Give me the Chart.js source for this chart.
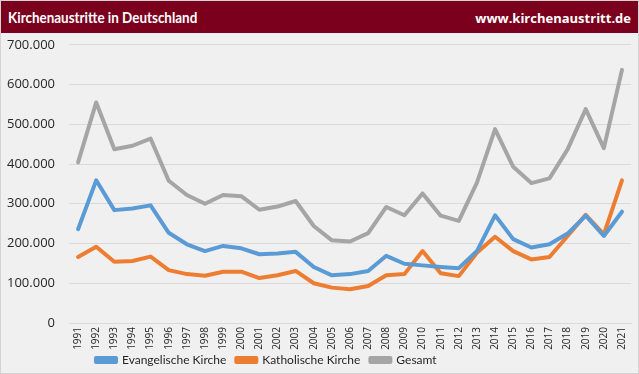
<!DOCTYPE html>
<html>
<head>
<meta charset="utf-8">
<script src="https://cdn.jsdelivr.net/npm/chart.js@4"></script>
<style>
  html, body { margin: 0; padding: 0; background: #f0f0f0; }
  #wrap { width: 639px; height: 374px; box-sizing: border-box; border: 1px solid #d4d4d4; position: relative; overflow: hidden; }
  #header { height: 32px; background: #7a001d; color: #fff; font-weight: bold; position: relative; z-index: 2; }
  #header .title { position: absolute; left: 7px; top: 6px; font-size: 16px; font-family: Lato, sans-serif; transform: scaleX(0.84); transform-origin: left center; white-space: nowrap; }
  #header .url { position: absolute; right: 7px; top: 8px; font-size: 13px; font-family: "Open Sans", sans-serif; }
  #chartBox { position: absolute; left: 0; top: 22px; width: 637px; height: 360px; z-index: 1; }
</style>
</head>
<body>
<div id="wrap">
  <div id="header"><span class="title">Kirchenaustritte in Deutschland</span><span class="url">www.kirchenaustritt.de</span></div>
  <div id="chartBox"><canvas id="austritteChart" width="637" height="360"></canvas></div>
</div>
<script>
// Jahre
var years = ['1991', '1992', '1993', '1994', '1995', '1996', '1997', '1998', '1999', '2000',
             '2001', '2002', '2003', '2004', '2005', '2006', '2007', '2008', '2009', '2010',
             '2011', '2012', '2013', '2014', '2015', '2016', '2017', '2018', '2019', '2020', '2021'];

var evangelisch = [236000, 359000, 284000, 288000, 296000, 227000, 198000, 181000, 194000, 188000,
                   173000, 175000, 179000, 141000, 120000, 123000, 131000, 169000, 149000, 145000,
                   141000, 138000, 181000, 271000, 211000, 190000, 198000, 225000, 270000, 219000, 280000];

var katholisch = [166000, 192000, 154000, 156000, 167000, 133000, 123000, 119000, 129000, 129000,
                  113000, 120000, 131000, 100000, 89000, 85000, 93000, 120000, 123000, 181000,
                  125000, 118000, 177000, 217000, 181000, 160000, 166000, 219000, 272000, 223000, 359000];

var gesamt = [404000, 555000, 437000, 446000, 464000, 358000, 322000, 300000, 322000, 319000,
              285000, 293000, 307000, 244000, 208000, 205000, 226000, 292000, 271000, 326000,
              270000, 257000, 353000, 488000, 393000, 352000, 364000, 437000, 538000, 440000, 637000];

var yMax = 700000;
var yStep = 100000;

function fmtDe(v) {
    return String(v).replace(/\B(?=(\d{3})+(?!\d))/g, '.');
}

function series(label, data, color) {
    return {
        label: label,
        data: data,
        borderColor: color,
        backgroundColor: color,
        borderWidth: 4,
        pointRadius: 0,
        tension: 0,
        borderJoinStyle: 'round',
        borderCapStyle: 'round'
    };
}

// Legende wie in Excel etwas nach rechts/oben schieben
var legendShift = {
    id: 'legendShift',
    afterLayout: function (chart) {
        var lg = chart.legend;
        if (!lg) return;
        lg.left += 85;
        lg.right += 85;
        lg.top -= 7;
        lg.bottom -= 7;
    }
};

new Chart(document.getElementById('austritteChart'), {
    type: 'line',
    data: {
        labels: years,
        datasets: [
            series('Evangelische Kirche', evangelisch, '#5b9bd5'),
            series('Katholische Kirche', katholisch, '#ed7d31'),
            series('Gesamt', gesamt, '#a5a5a5')
        ]
    },
    plugins: [legendShift],
    options: {
        responsive: false,
        animation: false,
        layout: { padding: { top: 2, right: 1, left: 0, bottom: 0 } },
        plugins: {
            legend: {
                position: 'bottom',
                align: 'start',
                labels: {
                    boxWidth: 20,
                    boxHeight: 4,
                    padding: 10,
                    color: '#262626',
                    font: { family: 'Lato', size: 12 }
                }
            },
            tooltip: { enabled: false }
        },
        scales: {
            x: {
                offset: true,
                grid: { display: false, drawTicks: false },
                border: { color: '#d9d9d9' },
                ticks: {
                    autoSkip: false,
                    maxRotation: 90,
                    minRotation: 90,
                    padding: 4,
                    color: '#262626',
                    font: { family: 'Open Sans', size: 10 }
                },
                afterFit: function (scale) { scale.height = 28; }
            },
            y: {
                min: 0,
                max: yMax,
                grid: { color: '#d9d9d9', drawTicks: false },
                border: { display: false },
                ticks: {
                    stepSize: yStep,
                    padding: 14,
                    color: '#262626',
                    font: { family: 'Open Sans', size: 13 },
                    callback: function (v) { return fmtDe(v); }
                },
                afterFit: function (scale) { scale.width = 68; }
            }
        }
    }
});
</script>
</body>
</html>
